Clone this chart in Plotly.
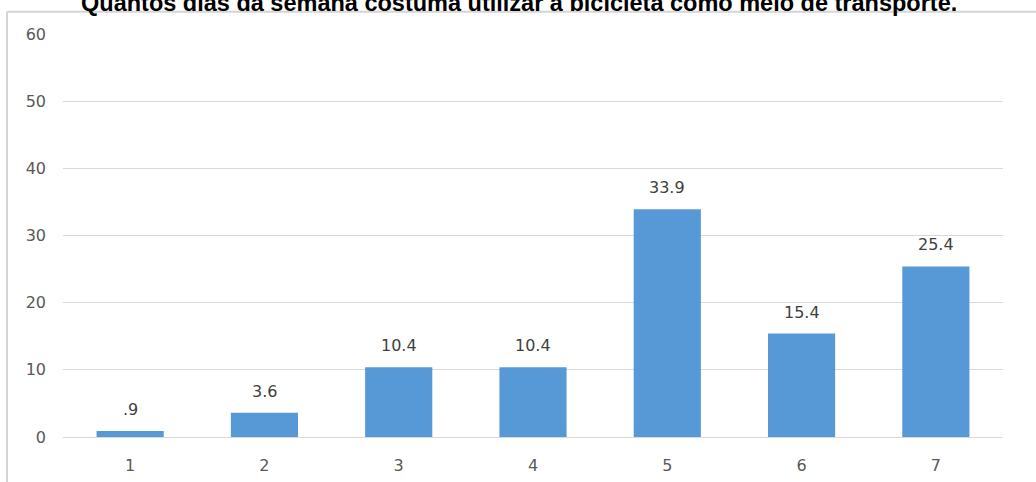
import plotly.graph_objects as go

categories = ["1", "2", "3", "4", "5", "6", "7"]
values = [0.9, 3.6, 10.4, 10.4, 33.9, 15.4, 25.4]
labels = [".9", "3.6", "10.4", "10.4", "33.9", "15.4", "25.4"]
y_ticks = [0, 10, 20, 30, 40, 50, 60]
title_text = "Quantos dias da semana costuma utilizar a bicicleta como meio de transporte."

fig = go.Figure()
fig.add_trace(go.Bar(
    x=categories, y=values,
    marker=dict(color="#5798d6", line=dict(width=0)),
    width=0.5,
    hoverinfo="skip",
))

for i, (v, t) in enumerate(zip(values, labels)):
    fig.add_annotation(x=i, y=v, text=t, showarrow=False, yanchor="bottom",
                       yshift=10, font=dict(family="DejaVu Sans", size=16, color="#404040"))

fig.add_annotation(xref="paper", yref="paper", x=0.485, y=1.0397, xanchor="center", yanchor="bottom",
                   text="<b>" + title_text + "</b>", showarrow=False,
                   font=dict(family="Liberation Sans, Arial", size=23.5, color="#000000"))

# chart frame (left and top edges)
fig.add_shape(type="line", xref="paper", yref="paper", x0=-0.0596, x1=1.1, y0=1.055, y1=1.055,
              line=dict(color="#d4d4d4", width=2))
fig.add_shape(type="line", xref="paper", yref="paper", x0=-0.0596, x1=-0.0596, y0=-0.2, y1=1.055,
              line=dict(color="#d4d4d4", width=2))

fig.update_layout(
    width=1036, height=482,
    margin=dict(l=63, r=33, t=34, b=45),
    paper_bgcolor="white", plot_bgcolor="white",
    showlegend=False,
    font=dict(family="DejaVu Sans", size=16, color="#595959"),
    xaxis=dict(type="category", showgrid=False, showline=False, zeroline=False, automargin=False,
               ticks="", ticklabelstandoff=17, tickfont=dict(size=16, color="#595959")),
    yaxis=dict(range=[0, 60], tickvals=y_ticks, showgrid=True, gridcolor="#d9d9d9", gridwidth=1,
               zeroline=True, zerolinecolor="#d9d9d9", zerolinewidth=1, showline=False, automargin=False,
               ticks="", ticklabelstandoff=16, tickfont=dict(size=16, color="#595959")),
)

fig.write_html("out.html", config={"displayModeBar": False},
               post_script="document.body.style.margin='0';")
